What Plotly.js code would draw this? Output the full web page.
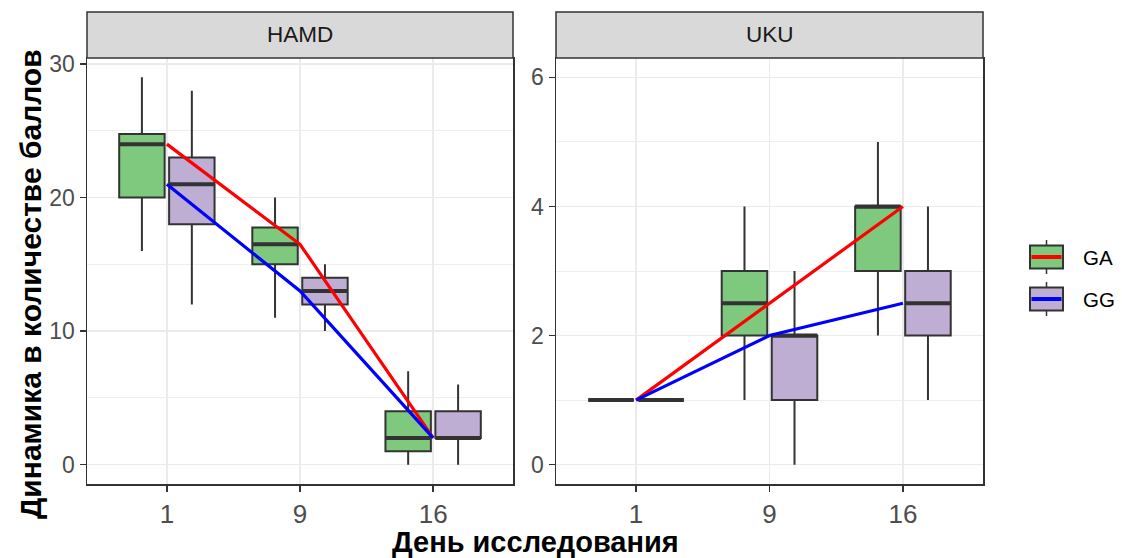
<!DOCTYPE html>
<html>
<head>
<meta charset="utf-8">
<script src="https://cdn.plot.ly/plotly-3.0.1.min.js"></script>
<style>html,body{margin:0;padding:0;background:#fff;}</style>
</head>
<body>
<div id="chart" style="width:1122px;height:558px;"></div>
<script>
// ---- data ----
const days = ['1', '9', '16'];
const groups = ['GA', 'GG'];
const panels = ['HAMD', 'UKU'];

// HAMD, group GA
const hamdGA_low = [16, 11, 0];
const hamdGA_q1 = [20, 15, 1];
const hamdGA_med = [24, 16.5, 2];
const hamdGA_q3 = [24.75, 17.75, 4];
const hamdGA_high = [29, 20, 7];
// HAMD, group GG
const hamdGG_low = [12, 10, 0];
const hamdGG_q1 = [18, 12, 2];
const hamdGG_med = [21, 13, 2];
const hamdGG_q3 = [23, 14, 4];
const hamdGG_high = [28, 15, 6];
// UKU, group GA
const ukuGA_low = [1, 1, 2];
const ukuGA_q1 = [1, 2, 3];
const ukuGA_med = [1, 2.5, 4];
const ukuGA_q3 = [1, 3, 4];
const ukuGA_high = [1, 4, 5];
// UKU, group GG
const ukuGG_low = [1, 0, 1];
const ukuGG_q1 = [1, 1, 2];
const ukuGG_med = [1, 2, 2.5];
const ukuGG_q3 = [1, 2, 3];
const ukuGG_high = [1, 3, 4];

const hamdTicks = [0, 10, 20, 30];
const ukuTicks = [0, 2, 4, 6];

// ---- styling ----
const fill = {GA: '#7FC97F', GG: '#BEAED4'};
const lineCol = {GA: '#FF0000', GG: '#0000FF'};
const dark = '#333333';
const FAM = 'Liberation Sans, Arial, sans-serif';

const stats = {
  HAMD: {
    GA: [hamdGA_low, hamdGA_q1, hamdGA_med, hamdGA_q3, hamdGA_high],
    GG: [hamdGG_low, hamdGG_q1, hamdGG_med, hamdGG_q3, hamdGG_high]
  },
  UKU: {
    GA: [ukuGA_low, ukuGA_q1, ukuGA_med, ukuGA_q3, ukuGA_high],
    GG: [ukuGG_low, ukuGG_q1, ukuGG_med, ukuGG_q3, ukuGG_high]
  }
};

const traces = [];
panels.forEach((p, pi) => {
  const xa = pi === 0 ? 'x' : 'x2';
  const ya = pi === 0 ? 'y' : 'y2';
  groups.forEach(g => {
    const [lo, q1, md, q3, hi] = stats[p][g];
    traces.push({
      type: 'box', name: g, x: days, xaxis: xa, yaxis: ya,
      lowerfence: lo, q1: q1, median: md, q3: q3, upperfence: hi,
      boxpoints: false, whiskerwidth: 0, offsetgroup: g,
      fillcolor: fill[g], line: {color: dark, width: 2},
      showlegend: false, hoverinfo: 'skip'
    });
  });
  // thicker median bars (ggplot "fatten")
  groups.forEach(g => {
    const md = stats[p][g][2];
    traces.push({
      type: 'box', name: g + ' median', x: days, xaxis: xa, yaxis: ya,
      lowerfence: md, q1: md, median: md, q3: md, upperfence: md,
      boxpoints: false, whiskerwidth: 0, offsetgroup: g,
      fillcolor: 'rgba(0,0,0,0)', line: {color: dark, width: 4},
      showlegend: false, hoverinfo: 'skip'
    });
  });
  groups.forEach(g => {
    traces.push({
      type: 'scatter', mode: 'lines', name: g, x: days, y: stats[p][g][2],
      xaxis: xa, yaxis: ya, line: {color: lineCol[g], width: 3.2},
      showlegend: false, hoverinfo: 'skip'
    });
  });
});

// ---- geometry (pixels -> paper) ----
const W = 1122, H = 558;
const L = 87, R = 983, T = 12, B = 484;
const pw = R - L, ph = B - T;
const px = v => (v - L) / pw;
const py = v => (B - v) / ph;
const panelTop = 58;

const xFont = {family: FAM, size: 26, color: '#4D4D4D'};
const yFont = {family: FAM, size: 23, color: '#4D4D4D'};

function xax(domain) {
  return {
    domain: domain, type: 'category', range: [-0.6, 2.6],
    showgrid: true, gridcolor: '#EBEBEB', gridwidth: 1.5,
    showline: true, mirror: true, linecolor: dark, linewidth: 1.5,
    ticks: 'outside', ticklen: 6, tickwidth: 1.5, tickcolor: dark,
    tickfont: xFont, zeroline: false, fixedrange: true
  };
}
function yax(range, ticks, minorStep, anchor) {
  return {
    domain: [0, py(panelTop)], range: range, anchor: anchor,
    tickvals: ticks, ticktext: ticks.map(String),
    showgrid: true, gridcolor: '#EBEBEB', gridwidth: 1.5,
    minor: {dtick: minorStep, tick0: 0, showgrid: true, gridcolor: '#EBEBEB', gridwidth: 0.8, ticks: ''},
    showline: true, mirror: true, linecolor: dark, linewidth: 1.5,
    ticks: 'outside', ticklen: 6, tickwidth: 1.5, tickcolor: dark,
    tickfont: yFont, zeroline: false, fixedrange: true
  };
}

const dom1 = [0, px(513)];
const dom2 = [px(556), 1];

const shapes = [];
const annotations = [];
// strips
[[dom1, 'HAMD'], [dom2, 'UKU']].forEach(([d, lab], i) => {
  shapes.push({type: 'rect', xref: 'paper', yref: 'paper', x0: d[0], x1: d[1],
    y0: py(panelTop), y1: 1, fillcolor: '#D9D9D9', line: {color: dark, width: 1.5}, layer: 'above'});
  annotations.push({xref: 'paper', yref: 'paper', x: (d[0] + d[1]) / 2, y: (py(panelTop) + 1) / 2,
    text: panels[i], showarrow: false, xanchor: 'center', yanchor: 'middle',
    font: {family: FAM, size: 22.5, color: '#1A1A1A'}});
});

// legend (drawn by hand: box key with a line through it)
const keyX0 = 1030, keyX1 = 1063;
const keys = [{g: 'GA', cy: 257}, {g: 'GG', cy: 299}];
keys.forEach(k => {
  const xc = (keyX0 + keyX1) / 2;
  shapes.push({type: 'line', xref: 'paper', yref: 'paper', x0: px(xc), x1: px(xc),
    y0: py(k.cy - 17), y1: py(k.cy + 17), line: {color: dark, width: 1.5}});
  shapes.push({type: 'rect', xref: 'paper', yref: 'paper', x0: px(keyX0), x1: px(keyX1),
    y0: py(k.cy - 11.5), y1: py(k.cy + 11.5), fillcolor: fill[k.g], line: {color: dark, width: 2}});
  shapes.push({type: 'line', xref: 'paper', yref: 'paper', x0: px(keyX0 + 1.5), x1: px(keyX1 - 1.5),
    y0: py(k.cy), y1: py(k.cy), line: {color: lineCol[k.g], width: 4}});
  annotations.push({xref: 'paper', yref: 'paper', x: px(1081), y: py(k.cy), text: k.g,
    showarrow: false, xanchor: 'left', yanchor: 'middle',
    font: {family: FAM, size: 20.5, color: '#000000'}});
});

// axis titles
annotations.push({xref: 'paper', yref: 'paper', x: 0.5, y: py(542), text: '<b>День исследования</b>',
  showarrow: false, xanchor: 'center', yanchor: 'middle', borderpad: 0,
  font: {family: FAM, size: 29, color: '#000000'}});
annotations.push({xref: 'paper', yref: 'paper', x: px(30), y: py(284), text: '<b>Динамика в количестве баллов</b>',
  showarrow: false, xanchor: 'center', yanchor: 'middle', textangle: -90,
  font: {family: FAM, size: 30, color: '#000000'}});

const layout = {
  width: W, height: H,
  margin: {l: L, r: W - R, t: T, b: H - B, pad: 0},
  paper_bgcolor: '#FFFFFF', plot_bgcolor: '#FFFFFF',
  boxmode: 'group', boxgap: 0.25, boxgroupgap: 0.09,
  showlegend: false,
  xaxis: Object.assign(xax(dom1), {anchor: 'y'}),
  xaxis2: Object.assign(xax(dom2), {anchor: 'y2'}),
  yaxis: yax([-1.45, 30.45], hamdTicks, 5, 'x'),
  yaxis2: yax([-0.3, 6.3], ukuTicks, 1, 'x2'),
  shapes: shapes, annotations: annotations
};

Plotly.newPlot('chart', traces, layout, {displayModeBar: false, staticPlot: true});
</script>
</body>
</html>
